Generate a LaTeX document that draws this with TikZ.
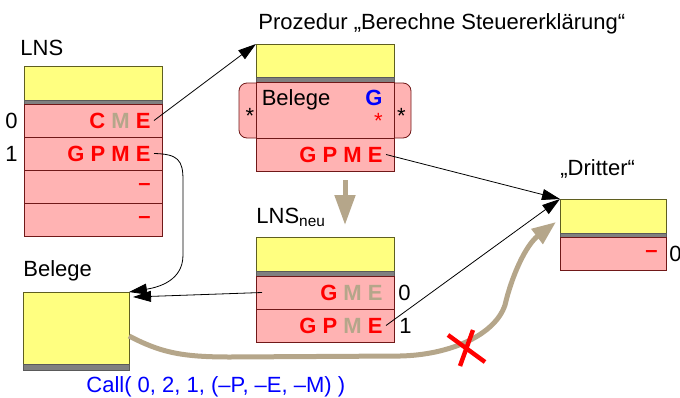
\documentclass[tikz,border=0pt]{standalone}
\usepackage{fontspec}
\setmainfont{Liberation Sans}
\usetikzlibrary{arrows.meta,positioning}
\definecolor{boxyellow}{HTML}{FFFF80}
\definecolor{boxolive}{HTML}{5F5F20}
\definecolor{rowpink}{HTML}{FFB3B3}
\definecolor{rowred}{HTML}{701818}
\definecolor{stripgray}{HTML}{808080}
\definecolor{argtan}{HTML}{B5A68A}
\begin{document}
\begin{tikzpicture}[x=0.5pt, y=-0.5pt, font=\fontsize{11}{13}\selectfont,
    yel/.style = {draw=boxolive, fill=boxyellow, minimum width=69pt, minimum height=17pt, inner sep=0, outer sep=0},
    strip/.style = {draw=stripgray!70!black, fill=stripgray, minimum width=69pt, minimum height=2pt, inner sep=0, outer sep=0},
    row/.style = {draw=rowred, fill=rowpink, minimum width=69pt, minimum height=16.5pt, inner sep=0, outer sep=0},
    lbl/.style = {inner sep=0},
    ltr/.style = {font=\fontsize{11}{13}\selectfont\bfseries, inner sep=1.5pt, anchor=east, xshift=-4pt},
    arr/.style = {-{Triangle[length=9pt,width=5.5pt]}},
    flow/.style = {draw=argtan, line width=2.5pt}]
    \useasboundingbox (0,0) rectangle (680,397);
    % LNS
    \node[yel, anchor=north west] (lns) at (24,66) {};
    \node[strip, below=0pt of lns] (lnsg) {};
    \node[row, below=0pt of lnsg] (lns0) {};
    \node[row, below=0pt of lns0] (lns1) {};
    \node[row, below=0pt of lns1] (lns2) {};
    \node[row, below=0pt of lns2] (lns3) {};
    \node[lbl, anchor=base west] at ([xshift=-2pt,yshift=5.5pt]lns.north west) {LNS};
    \node[lbl, anchor=east] at ([xshift=-3pt]lns0.west) {0};
    \node[lbl, anchor=east] at ([xshift=-3pt]lns1.west) {1};
    \node[ltr] (lns0t) at (lns0.east) {\textcolor{red}{C} \textcolor{argtan}{M} \textcolor{red}{E}};
    \node[ltr] (lns1t) at (lns1.east) {\textcolor{red}{G P M E}};
    \node[ltr] (lns2t) at (lns2.east) {\textcolor{red}{–}};
    \node[ltr] (lns3t) at (lns3.east) {\textcolor{red}{–}};
    % Prozedur
    \node[row, rounded corners=4pt, minimum width=86pt, minimum height=27.5pt] (belrd) at (325,110.5) {};
    \node[yel, anchor=north west, minimum height=16.5pt] (proc) at (256,44) {};
    \node[strip, below=0pt of proc, minimum height=2.5pt] (procg) {};
    \node[row, below=0pt of procg, minimum height=28pt] (proc0) {};
    \node[row, below=0pt of proc0] (proc1) {};
    \node[lbl, anchor=base west] at ([xshift=1pt,yshift=7.5pt]proc.north west) {Prozedur „Berechne Steuererklärung“};
    \node[lbl, anchor=base west] at ([xshift=2.7pt,yshift=-11.5pt]proc0.north west) {Belege};
    \node[lbl, anchor=base east, font=\fontsize{11}{13}\selectfont\bfseries] at ([xshift=-5.5pt,yshift=-11.5pt]proc0.north east) {\textcolor{blue}{G}};
    \node[lbl, anchor=base east] at ([xshift=-5.5pt,yshift=-23pt]proc0.north east) {\textcolor{red}{*}};
    \node[lbl, anchor=base] at ([xshift=5.5pt,yshift=-20pt]belrd.north west) {*};
    \node[lbl, anchor=base] at ([xshift=-4.75pt,yshift=-20pt]belrd.north east) {*};
    \node[ltr] (proc1t) at (proc1.east) {\textcolor{red}{G P M E}};
    % LNS neu
    \node[yel, anchor=north west] (neu) at (256,237) {};
    \node[strip, below=0pt of neu, minimum height=2.5pt] (neug) {};
    \node[row, below=0pt of neug] (neu0) {};
    \node[row, below=0pt of neu0] (neu1) {};
    \node[lbl, anchor=base west] at ([yshift=7pt]neu.north west) {LNS\textsubscript{neu}};
    \node[lbl, anchor=west] at ([xshift=2pt]neu0.east) {0};
    \node[lbl, anchor=west] at ([xshift=2.5pt]neu1.east) {1};
    \node[ltr] (neu0t) at (neu0.east) {\textcolor{red}{G} \textcolor{argtan}{M E}};
    \node[ltr] (neu1t) at (neu1.east) {\textcolor{red}{G P} \textcolor{argtan}{M} \textcolor{red}{E}};
    % Dritter
    \node[yel, anchor=north west, minimum width=53pt] (dr) at (560,199) {};
    \node[strip, below=0pt of dr, minimum width=53pt] (drg) {};
    \node[row, below=0pt of drg, minimum width=53pt] (dr0) {};
    \node[lbl, anchor=base west] at ([yshift=12pt]dr.north west) {„Dritter“};
    \node[lbl, anchor=west] at ([xshift=1.5pt]dr0.east) {0};
    \node[ltr, xshift=1.5pt] (dr0t) at (dr0.east) {\textcolor{red}{–}};
    % Belege
    \node[yel, anchor=north west, minimum width=53pt, minimum height=36pt] (bel) at (23,292) {};
    \node[strip, below=0pt of bel, minimum width=53pt, minimum height=3pt] (belg) {};
    \node[lbl, anchor=base west] at ([yshift=8pt]bel.north west) {Belege};
    \node[lbl, anchor=base west] at ([xshift=31.5pt,yshift=-11pt]belg.south west) {\textcolor{blue}{Call( 0, 2, 1, (–P, –E, –M) )}};
    % Verweise
    \draw[arr] (lns0t.east) -- (proc.north west);
    \draw[arr] (lns1t.east) .. controls (178,154) and (183,160) .. (183,180) -- (183,255) .. controls (183,280) and (160,287) .. (bel.north east);
    \draw[arr] ([xshift=3pt]neu0.west) -- ([xshift=2pt,yshift=-2.5pt]bel.north east);
    \draw[arr] (proc1t.east) -- (dr.north west);
    \draw[arr] (neu1t.east) -- (dr.north west);
    % Kopie und Aufruf
    \draw[flow, -{Triangle[length=15pt,width=10pt]}] ([xshift=10pt,yshift=-4.5pt]proc1.south) -- ([xshift=10pt,yshift=6pt]neu.north);
    \draw[flow, -{Triangle[length=12pt,width=9pt]}] ([yshift=-4pt]bel.east) .. controls (160,352) and (180,357) .. (230,357) -- (400,356) .. controls (450,355) and (495,335) .. (505,305) .. controls (512,275) and (526,245) .. ([xshift=-2pt,yshift=-3pt]dr.west);
    \draw[red, line width=2.2pt] (448,335) -- (485,362) (473,330) -- (460,366);
\end{tikzpicture}
\end{document}
